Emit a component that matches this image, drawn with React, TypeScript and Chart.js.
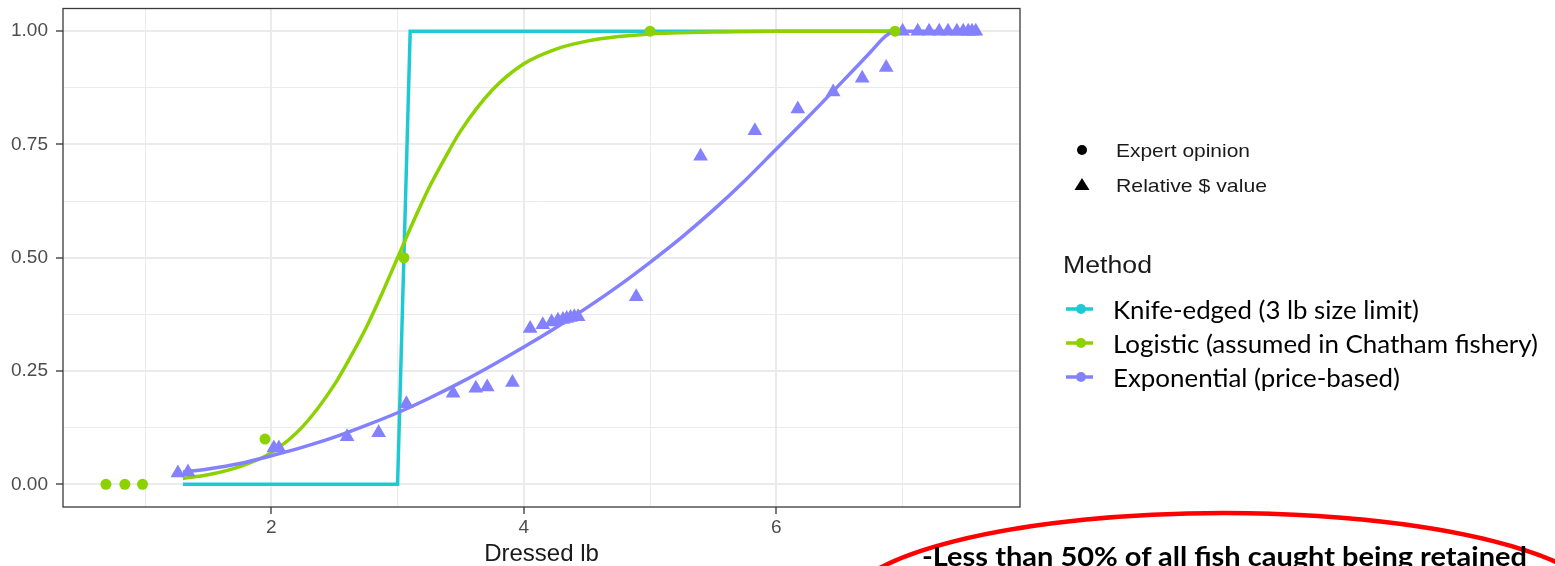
import React, { useEffect, useRef } from "react";
import { Chart, registerables } from "chart.js";

Chart.register(...registerables);

// ---- axis ticks ----
const xTickValues = [1, 2, 3, 4, 5, 6, 7];
const xMajorTicks = [2, 4, 6];
const yTickValues = [0, 0.125, 0.25, 0.375, 0.5, 0.625, 0.75, 0.875, 1];
const yMajorTicks = [0, 0.25, 0.5, 0.75, 1];

// ---- Knife-edged (3 lb size limit) ----
const knifeX = [1.3, 3.0, 3.1, 6.95];
const knifeY = [0, 0, 1, 1];

// ---- Logistic (assumed in Chatham fishery) ----
const logisticX = [1.3, 1.5, 1.75, 2.0, 2.25, 2.5, 2.625, 2.75, 2.875, 3.0, 3.125, 3.25, 3.375, 3.5, 3.75, 4.0, 4.25, 4.5, 4.75, 5.0, 5.5, 6.0, 6.95];
const logisticY = [0.013, 0.021, 0.039, 0.07, 0.128, 0.22, 0.28, 0.345, 0.42, 0.5, 0.58, 0.655, 0.72, 0.78, 0.87, 0.928, 0.96, 0.978, 0.988, 0.994, 0.998, 1.0, 1.0];

// ---- Exponential (price-based) ----
const exponentialX = [1.3, 1.5, 1.75, 2.0, 2.25, 2.5, 2.75, 3.0, 3.25, 3.5, 3.75, 4.0, 4.25, 4.5, 4.75, 5.0, 5.25, 5.5, 5.75, 6.0, 6.25, 6.5, 6.75, 6.87, 6.95, 7.58];
const exponentialY = [0.027, 0.034, 0.046, 0.063, 0.082, 0.104, 0.13, 0.158, 0.19, 0.225, 0.263, 0.303, 0.345, 0.39, 0.438, 0.49, 0.545, 0.605, 0.67, 0.74, 0.81, 0.882, 0.955, 0.99, 1.0, 1.0];

// ---- Expert opinion (points) ----
const expertX = [0.69, 0.84, 0.98, 1.95, 3.05, 5.0, 6.94];
const expertY = [0, 0, 0, 0.1, 0.5, 1.0, 1.0];

// ---- Relative $ value (points) ----
const dollarX = [1.26, 1.34, 2.02, 2.06, 2.6, 2.85, 3.07, 3.44, 3.62, 3.71, 3.91, 4.05, 4.15, 4.22, 4.27, 4.31, 4.34, 4.37, 4.4, 4.43, 4.89, 5.4, 5.83, 6.17, 6.45, 6.68, 6.87, 7.0, 7.12, 7.21, 7.29, 7.36, 7.43, 7.48, 7.52, 7.55, 7.58];
const dollarY = [0.025, 0.027, 0.08, 0.08, 0.105, 0.114, 0.178, 0.201, 0.212, 0.215, 0.225, 0.344, 0.352, 0.358, 0.362, 0.364, 0.366, 0.368, 0.37, 0.37, 0.414, 0.724, 0.78, 0.828, 0.866, 0.896, 0.92, 1, 1, 1, 1, 1, 1, 1, 1, 1, 1];

const CYAN = "#1fc9d4";
const GREEN = "#8cd100";
const PURPLE = "#8481ff";

const toPts = (xs: number[], ys: number[]) => xs.map((x, i) => ({ x, y: ys[i] }));
const isIn = (arr: number[], v: number) => arr.some((a) => Math.abs(a - v) < 1e-6);

export default function App() {
  const ref = useRef<HTMLCanvasElement>(null);

  useEffect(() => {
    const canvas = ref.current;
    if (!canvas) return;
    const borderPlugin = {
      id: "panelBorder",
      afterDraw(chart: any) {
        const { ctx, chartArea: a } = chart;
        ctx.save();
        ctx.strokeStyle = "#3a3a3a";
        ctx.lineWidth = 1.3;
        ctx.strokeRect(a.left, a.top, a.right - a.left, a.bottom - a.top);
        ctx.restore();
      },
    };
    const chart = new Chart(canvas, {
      type: "scatter",
      data: {
        datasets: [
          {
            label: "Expert opinion",
            data: toPts(expertX, expertY),
            pointStyle: "circle",
            pointRadius: 5.5,
            backgroundColor: GREEN,
            borderColor: GREEN,
            borderWidth: 0,
            showLine: false,
            order: 0,
          },
          {
            label: "Relative $ value",
            data: toPts(dollarX, dollarY),
            pointStyle: "triangle",
            pointRadius: 8.5,
            backgroundColor: PURPLE,
            borderColor: PURPLE,
            borderWidth: 0,
            showLine: false,
            order: 1,
          },
          {
            label: "Exponential (price-based)",
            data: toPts(exponentialX, exponentialY),
            showLine: true,
            pointRadius: 0,
            borderColor: PURPLE,
            borderWidth: 3.5,
            cubicInterpolationMode: "monotone",
            order: 2,
          },
          {
            label: "Logistic (assumed in Chatham fishery)",
            data: toPts(logisticX, logisticY),
            showLine: true,
            pointRadius: 0,
            borderColor: GREEN,
            borderWidth: 3.5,
            cubicInterpolationMode: "monotone",
            order: 3,
          },
          {
            label: "Knife-edged (3 lb size limit)",
            data: toPts(knifeX, knifeY),
            showLine: true,
            pointRadius: 0,
            borderColor: CYAN,
            borderWidth: 3.5,
            tension: 0,
            order: 4,
          },
        ],
      },
      options: {
        animation: false,
        responsive: false,
        devicePixelRatio: 1,
        layout: { padding: { top: 6, right: 535, bottom: 0, left: 0 } },
        plugins: { legend: { display: false }, tooltip: { enabled: false } },
        scales: {
          x: {
            type: "linear",
            min: 0.35,
            max: 7.93,
            afterBuildTicks: (scale: any) => {
              scale.ticks = xTickValues.map((v) => ({ value: v }));
            },
            afterFit: (scale: any) => {
              scale.height = 59;
              scale.paddingLeft = 0;
              scale.paddingRight = 0;
            },
            border: { display: false },
            grid: {
              color: "#ebebeb",
              lineWidth: (c: any) => (c.tick && isIn(xMajorTicks, c.tick.value) ? 2 : 1),
              tickColor: (c: any) => (c.tick && isIn(xMajorTicks, c.tick.value) ? "#333333" : "rgba(0,0,0,0)"),
              tickWidth: 1.3,
              tickLength: 7,
              drawTicks: true,
            },
            ticks: {
              autoSkip: false,
              maxRotation: 0,
              padding: 2,
              color: "#4d4d4d",
              font: { family: "Liberation Sans", size: 19 },
              callback: (v: any) => (isIn(xMajorTicks, Number(v)) ? String(v) : ""),
            },
            title: {
              display: true,
              text: "Dressed lb",
              color: "#1a1a1a",
              font: { family: "Liberation Sans", size: 24, lineHeight: 1 },
              padding: { top: 0, bottom: 0 },
            },
          },
          y: {
            type: "linear",
            min: -0.05,
            max: 1.05,
            afterBuildTicks: (scale: any) => {
              scale.ticks = yTickValues.map((v) => ({ value: v }));
            },
            afterFit: (scale: any) => {
              scale.width = 63;
              scale.paddingTop = 0;
              scale.paddingBottom = 0;
            },
            border: { display: false },
            grid: {
              color: "#ebebeb",
              lineWidth: (c: any) => (c.tick && isIn(yMajorTicks, c.tick.value) ? 2 : 1),
              tickColor: (c: any) => (c.tick && isIn(yMajorTicks, c.tick.value) ? "#333333" : "rgba(0,0,0,0)"),
              tickWidth: 1.3,
              tickLength: 7,
              drawTicks: true,
            },
            ticks: {
              autoSkip: false,
              padding: 8,
              color: "#4d4d4d",
              font: { family: "Liberation Sans", size: 19 },
              callback: (v: any) => (isIn(yMajorTicks, Number(v)) ? Number(v).toFixed(2) : ""),
            },
          },
        },
      },
      plugins: [borderPlugin],
    } as any);
    return () => chart.destroy();
  }, []);

  const methodRows = [
    { label: "Knife-edged (3 lb size limit)", color: CYAN, y: 309, base: 319, len: 306 },
    { label: "Logistic (assumed in Chatham fishery)", color: GREEN, y: 343, base: 353, len: 425 },
    { label: "Exponential (price-based)", color: PURPLE, y: 377, base: 387, len: 287 },
  ];

  return (
    <div style={{ position: "absolute", left: 0, top: 0, width: 1555, height: 566, overflow: "hidden", background: "#ffffff" }}>
      <canvas ref={ref} width={1555} height={566} style={{ position: "absolute", left: 0, top: 0, width: 1555, height: 566 }} />
      <svg width={1555} height={566} style={{ position: "absolute", left: 0, top: 0, pointerEvents: "none" }}>
        <circle cx={1082} cy={150} r={5} fill="#000" />
        <text x={1116} y={157} fontFamily="Liberation Sans" fontSize={19} fill="#1a1a1a" textLength={134} lengthAdjust="spacingAndGlyphs">
          Expert opinion
        </text>
        <polygon points="1082,178 1074.5,190 1089.5,190" fill="#000" />
        <text x={1116} y={192} fontFamily="Liberation Sans" fontSize={19} fill="#1a1a1a" textLength={151} lengthAdjust="spacingAndGlyphs">
          Relative $ value
        </text>
        <text x={1063} y={273} fontFamily="Liberation Sans" fontSize={23} fill="#1a1a1a" textLength={89} lengthAdjust="spacingAndGlyphs">
          Method
        </text>
        {methodRows.map((r) => (
          <g key={r.label}>
            <line x1={1066} y1={r.y} x2={1093} y2={r.y} stroke={r.color} strokeWidth={3.5} />
            <circle cx={1081} cy={r.y} r={5} fill={r.color} />
            <text x={1113} y={r.base} fontFamily="Lato" fontSize={25} fill="#000" textLength={r.len} lengthAdjust="spacingAndGlyphs">
              {r.label}
            </text>
          </g>
        ))}
        <ellipse cx={1224} cy={610} rx={382} ry={97} fill="none" stroke="#ff0000" strokeWidth={4.5} />
        <text x={922} y={566} fontFamily="Lato" fontWeight="bold" fontSize={26} fill="#000" textLength={605} lengthAdjust="spacingAndGlyphs">
          -Less than 50% of all fish caught being retained
        </text>
      </svg>
    </div>
  );
}
